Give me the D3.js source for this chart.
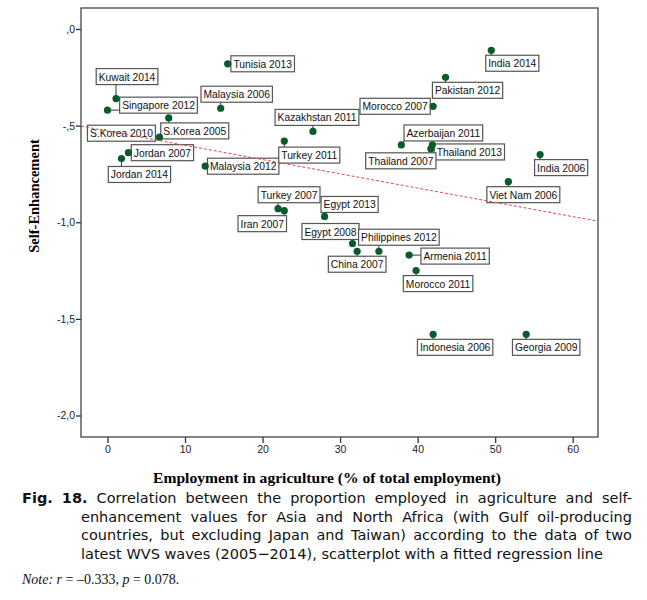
<!DOCTYPE html>
<html>
<head>
<meta charset="utf-8">
<script src="https://cdn.jsdelivr.net/npm/d3@7"></script>
<style>
  body { margin: 0; background: #fff; }
</style>
</head>
<body>
<div id="chart-container"></div>
<script>
// Country-wave labels
const categories = [
  "Tunisia 2013", "Kuwait 2014", "Singapore 2012", "Malaysia 2006", "S.Korea 2005",
  "S.Korea 2010", "Jordan 2007", "Jordan 2014", "Malaysia 2012", "Kazakhstan 2011",
  "Turkey 2011", "Turkey 2007", "Iran 2007", "India 2014", "Pakistan 2012",
  "Morocco 2007", "Azerbaijan 2011", "Thailand 2013", "Thailand 2007", "India 2006",
  "Viet Nam 2006", "Egypt 2013", "Egypt 2008", "China 2007", "Philippines 2012",
  "Armenia 2011", "Morocco 2011", "Indonesia 2006", "Georgia 2009"
];

// Employment in agriculture (% of total employment)
const agriculture = [
  15.5, 1.1, 0.0, 14.6, 7.9,
  6.7, 2.7, 1.8, 12.6, 26.5,
  22.8, 22.0, 22.8, 49.5, 43.6,
  42.0, 37.9, 41.9, 41.7, 55.8,
  51.7, 28.0, 31.6, 32.2, 35.0,
  38.9, 39.8, 42.0, 54.0
];

// Self-Enhancement score
const selfEnhancement = [
  -0.18, -0.36, -0.42, -0.41, -0.46,
  -0.56, -0.64, -0.67, -0.71, -0.53,
  -0.58, -0.93, -0.94, -0.11, -0.25,
  -0.40, -0.60, -0.60, -0.62, -0.65,
  -0.79, -0.97, -1.11, -1.15, -1.15,
  -1.17, -1.25, -1.58, -1.58
];

// fitted regression line as drawn in the figure: y = a + b * x
const fitIntercept = -0.528;
const fitSlope = -0.00738;

const xTicks = [0, 10, 20, 30, 40, 50, 60];
const yTicks = [0, -0.5, -1.0, -1.5, -2.0];

// where each label box sits relative to its point (px, box centre)
const labelOffsets = [
  [35, 0], [11, -22], [51, -5], [16, -14], [26, 13],
  [-38, -4], [34, 0], [18, 16], [38, 0], [4, -14],
  [25, 14], [11, -14], [-22, 13], [21, 13], [22, 13],
  [-38, 0], [42, -12], [37, 7], [-30, 12], [21, 13],
  [15, 13], [25, -12], [-22, -12], [0, 13], [20, -14],
  [46, 1], [22, 13], [22, 13], [20, 13]
];

const data = categories.map((name, i) => ({
  name: name,
  x: agriculture[i],
  y: selfEnhancement[i],
  off: labelOffsets[i]
}));

const width = 647;
const height = 600;
const frame = { left: 81, top: 8, right: 598, bottom: 437 };

const svg = d3.select("#chart-container")
  .append("svg")
  .attr("width", width)
  .attr("height", height);

const x = d3.scaleLinear().domain([0, 60]).range([107.5, 572.7]);
const y = d3.scaleLinear().domain([0, -2]).range([29, 415.5]);
x.domain([x.invert(frame.left), x.invert(frame.right)]).range([frame.left, frame.right]);
y.domain([y.invert(frame.top), y.invert(frame.bottom)]).range([frame.top, frame.bottom]);

// SPSS style numbers: ",0", "-,5", "-1,0"
function spssFormat(d) {
  let s = Math.abs(d).toFixed(1).replace(".", ",").replace(/^0,/, ",");
  return (d < 0 ? "-" : "") + s;
}

// Axes
const yAxis = svg.append("g")
  .attr("transform", `translate(${frame.left},0)`)
  .call(d3.axisLeft(y).tickValues(yTicks).tickSize(5).tickPadding(1).tickFormat(spssFormat));
const xAxis = svg.append("g")
  .attr("transform", `translate(0,${frame.bottom})`)
  .call(d3.axisBottom(x).tickValues(xTicks).tickSize(6).tickPadding(3).tickFormat(d3.format("d")));
[xAxis, yAxis].forEach((g) => {
  g.select(".domain").remove();
  g.selectAll("line").attr("stroke", "#333").attr("stroke-width", 1.3);
  g.selectAll("text")
    .style("font-family", "'Liberation Sans', Arial, sans-serif")
    .style("font-size", "10.5px")
    .attr("fill", "#222");
});

// Plot frame
svg.append("rect")
  .attr("x", frame.left)
  .attr("y", frame.top)
  .attr("width", frame.right - frame.left)
  .attr("height", frame.bottom - frame.top)
  .attr("fill", "none")
  .attr("stroke", "#444")
  .attr("stroke-width", 1.3);

// Labels
const labelFont = "'Liberation Sans', Arial, sans-serif";
const boxH = 16;
const labels = svg.append("g");
data.forEach((d) => {
  const px = x(d.x);
  const py = y(d.y);
  const cx = px + d.off[0];
  const cy = py + d.off[1];
  const t = labels.append("text")
    .attr("x", cx)
    .attr("y", cy + 4)
    .attr("text-anchor", "middle")
    .style("font-family", labelFont)
    .style("font-size", "10.3px")
    .attr("fill", "#111")
    .text(d.name);
  const w = t.node().getComputedTextLength() + 5;
  const bx = cx - w / 2;
  const by = cy - boxH / 2;
  // leader line to nearest point of the box
  const nx = Math.max(bx, Math.min(px, bx + w));
  const ny = Math.max(by, Math.min(py, by + boxH));
  if (Math.hypot(nx - px, ny - py) > 4) {
    labels.insert("line", "text")
      .attr("x1", px).attr("y1", py)
      .attr("x2", nx).attr("y2", ny)
      .attr("stroke", "#333")
      .attr("stroke-width", 1);
  }
  labels.insert("rect", "text")
    .attr("x", bx)
    .attr("y", by)
    .attr("width", w)
    .attr("height", boxH)
    .attr("fill", "#fff")
    .attr("stroke", "#555")
    .attr("stroke-width", 1.2);
});

// Fitted regression line across the whole x range (drawn over the labels)
const [x0, x1] = x.domain();
svg.append("line")
  .attr("x1", x(x0))
  .attr("y1", y(fitIntercept + fitSlope * x0))
  .attr("x2", x(x1))
  .attr("y2", y(fitIntercept + fitSlope * x1))
  .attr("stroke", "#e0474c")
  .attr("stroke-width", 1)
  .attr("stroke-dasharray", "3,2");

// Points
svg.append("g")
  .selectAll("circle")
  .data(data)
  .enter()
  .append("circle")
  .attr("cx", (d) => x(d.x))
  .attr("cy", (d) => y(d.y))
  .attr("r", 3.6)
  .attr("fill", "#0b5a2c");

// Axis titles
const serif = "'Liberation Serif', 'Times New Roman', serif";
svg.append("text")
  .attr("transform", "translate(39,196) rotate(-90)")
  .attr("text-anchor", "middle")
  .style("font-family", serif)
  .style("font-weight", "bold")
  .style("font-size", "14.5px")
  .text("Self-Enhancement");
svg.append("text")
  .attr("x", 327)
  .attr("y", 483)
  .attr("text-anchor", "middle")
  .style("font-family", serif)
  .style("font-weight", "bold")
  .style("font-size", "15.6px")
  .text("Employment in agriculture (% of total employment)");

// Caption, justified like the printed figure
const capFont = "'DejaVu Sans', Verdana, sans-serif";
const captionLines = [
  { x: 22, y: 503, justify: true, words: ["Fig.*", "18.*", "Correlation", "between", "the", "proportion", "employed", "in", "agriculture", "and", "self-"] },
  { x: 81, y: 521.5, justify: true, words: "enhancement values for Asia and North Africa (with Gulf oil-producing".split(" ") },
  { x: 81, y: 540, justify: true, words: "countries, but excluding Japan and Taiwan) according to the data of two".split(" ") },
  { x: 81, y: 558.5, justify: false, words: "latest WVS waves (2005\u22122014), scatterplot with a fitted regression line".split(" ") }
];
const capRight = 632;
const cap = svg.append("g");

// pick the size so the last (unjustified) line has the printed width
const probe = cap.append("text").style("font-family", capFont).style("font-size", "13px")
  .text(captionLines[3].words.join(" "));
const capSize = 13 * 522 / probe.node().getComputedTextLength();
probe.remove();

captionLines.forEach((line) => {
  const nodes = line.words.map((wd) => {
    const bold = wd.endsWith("*");
    return cap.append("text")
      .attr("y", line.y)
      .style("font-family", capFont)
      .style("font-size", capSize + "px")
      .style("font-weight", bold ? "bold" : "normal")
      .attr("fill", "#111")
      .text(bold ? wd.slice(0, -1) : wd);
  });
  const widths = nodes.map((n) => n.node().getComputedTextLength());
  const space = capSize * 0.318;
  const gap = line.justify
    ? (capRight - line.x - d3.sum(widths)) / (nodes.length - 1)
    : space;
  let cx = line.x;
  nodes.forEach((n, i) => {
    n.attr("x", cx);
    cx += widths[i] + gap;
  });
});

// Note line
const note = svg.append("text")
  .attr("x", 22)
  .attr("y", 584)
  .style("font-family", serif)
  .style("font-size", "14px")
  .attr("fill", "#111");
note.append("tspan").style("font-style", "italic").text("Note: r");
note.append("tspan").text(" = \u20130.333, ");
note.append("tspan").style("font-style", "italic").text("p");
note.append("tspan").text(" = 0.078.");
</script>
</body>
</html>
